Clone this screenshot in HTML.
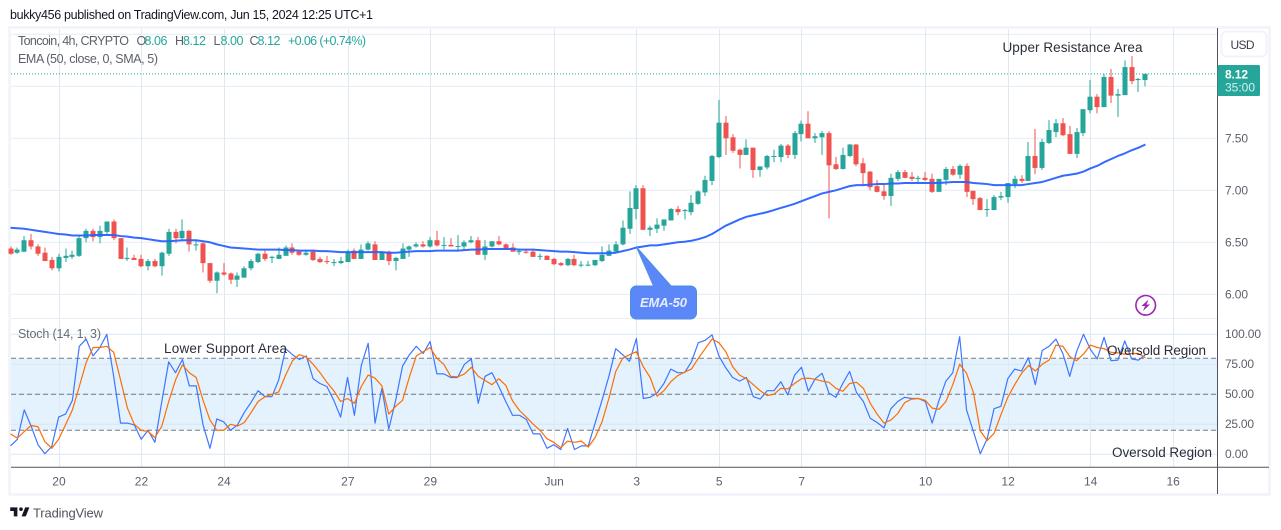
<!DOCTYPE html>
<html lang="en">
<head>
<meta charset="utf-8">
<title>Toncoin 4h chart</title>
<style>
html,body{margin:0;padding:0;background:#fff;width:1281px;height:530px;overflow:hidden}
svg{display:block;font-family:"Liberation Sans",sans-serif}
</style>
</head>
<body>
<svg id="chart" xmlns="http://www.w3.org/2000/svg" width="1281" height="530" viewBox="0 0 1281 530">
  <rect x="9.5" y="27.5" width="1260" height="467" fill="#fff" stroke="#f0f3fa" stroke-width="2.5"/>
  <rect x="11" y="358.3" width="1206" height="72" fill="#e3f2fd"/>
  <g id="grid"></g>
  <g id="hlines"></g>
  <g id="candles"></g>
  <path id="ema" fill="none" stroke="#2962ff" stroke-width="2" stroke-linejoin="round" opacity="0.95"/>
  <path id="stochK" fill="none" stroke="#3f76ff" stroke-width="1.2" stroke-linejoin="round"/>
  <path id="stochD" fill="none" stroke="#ff6d00" stroke-width="1.2" stroke-linejoin="round"/>
  <line id="lastLine" x1="11" x2="1217" stroke="#26a69a" stroke-width="1" stroke-dasharray="1 2"/>

  <line x1="1217.5" x2="1217.5" y1="28" y2="494" stroke="#50535e" stroke-width="1"/>
  <line x1="11" x2="1269" y1="467.3" y2="467.3" stroke="#50535e" stroke-width="1"/>

  <g id="priceLabels"></g>
  <g id="stochLabels"></g>
  <g id="timeLabels"></g>

  <text x="10" y="19" font-size="12.5" fill="#131722" textLength="363" lengthAdjust="spacing">bukky456 published on TradingView.com, Jun 15, 2024 12:25 UTC+1</text>

  <g font-size="12.5">
    <text x="18" y="45" fill="#5d606b" textLength="111" lengthAdjust="spacing">Toncoin, 4h, CRYPTO</text>
    <text x="136.500" y="45" fill="#5d606b">O</text>
    <text x="144.500" y="45" fill="#26a69a" textLength="23" lengthAdjust="spacing">8.06</text>
    <text x="175" y="45" fill="#5d606b">H</text>
    <text x="183" y="45" fill="#26a69a" textLength="23" lengthAdjust="spacing">8.12</text>
    <text x="213.500" y="45" fill="#5d606b">L</text>
    <text x="220.500" y="45" fill="#26a69a" textLength="23" lengthAdjust="spacing">8.00</text>
    <text x="249.500" y="45" fill="#5d606b">C</text>
    <text x="257.500" y="45" fill="#26a69a" textLength="23" lengthAdjust="spacing">8.12</text>
    <text x="288" y="45" fill="#26a69a" textLength="78" lengthAdjust="spacing">+0.06 (+0.74%)</text>
    <text x="18" y="63" fill="#5d606b" textLength="140" lengthAdjust="spacing">EMA (50, close, 0, SMA, 5)</text>
    <text x="18" y="338" fill="#6a6d78" textLength="83" lengthAdjust="spacing">Stoch (14, 1, 3)</text>
  </g>

  <g font-size="13.5" fill="#2a2e39">
    <text x="1002.500" y="52" textLength="140" lengthAdjust="spacing">Upper Resistance Area</text>
    <text x="164" y="353" textLength="123" lengthAdjust="spacing">Lower Support Area</text>
    <text x="1107" y="355" textLength="99" lengthAdjust="spacing">Oversold Region</text>
    <text x="1112" y="457" textLength="100" lengthAdjust="spacing">Oversold Region</text>
  </g>

  <g>
    <polygon points="636.5,247 654,287 672,287" fill="#5c87f8" stroke="#4a8fdc" stroke-width="1"/>
    <rect x="630.500" y="286" width="66" height="33" rx="6" fill="#5c87f8" stroke="#4a8fdc" stroke-width="1"/>
    <polygon points="643,262 654,288 672,288" fill="#5c87f8"/>
    <text x="640" y="307" font-size="13" font-style="italic" font-weight="bold" fill="#e8eeff" textLength="47" lengthAdjust="spacing">EMA-50</text>
  </g>

  <g>
    <circle cx="1145.700" cy="305.300" r="9.800" fill="#fff" stroke="#9c27b0" stroke-width="1.6"/>
    <polygon points="1148.500,299.500 1141.500,306 1145,306 1143,311 1150,304.500 1146.500,304.500" fill="#9c27b0"/>
  </g>

  <g>
    <rect x="1221.500" y="31.500" width="45" height="25" rx="5" fill="#fff" stroke="#f0f3fa" stroke-width="2"/>
    <text x="1230.500" y="49" font-size="12" fill="#3b3e48" textLength="24" lengthAdjust="spacing">USD</text>
  </g>

  <g>
    <rect x="1217.500" y="65" width="42.500" height="31" rx="1.500" fill="#26a69a"/>
    <text x="1225" y="78.500" font-size="12" font-weight="bold" fill="#fff" textLength="23" lengthAdjust="spacing">8.12</text>
    <text x="1225" y="91.500" font-size="12" fill="#d4efec" textLength="30" lengthAdjust="spacing">35:00</text>
  </g>

  <g>
    <path transform="translate(9 503.800) scale(.6)" fill="#131722" d="M14 6H2v6h6v9h6V6zm14 15h-7l6-15h7l-6 15zm-8-9a3 3 0 1 0 0-6 3 3 0 0 0 0 6z"/>
    <text x="33" y="517.500" font-size="13" fill="#50535e" textLength="70" lengthAdjust="spacing">TradingView</text>
  </g>
</svg>

<script>
const opens = [
6.44,6.40,6.41,6.52,6.46,6.40,6.33,6.25,6.35,6.36,
6.37,6.54,6.61,6.55,6.60,6.70,6.54,6.34,6.35,6.34,
6.27,6.32,6.27,6.39,6.60,6.54,6.61,6.47,6.49,6.30,
6.13,6.21,6.20,6.14,6.16,6.25,6.31,6.39,6.35,6.34,
6.37,6.45,6.41,6.38,6.41,6.34,6.32,6.30,6.30,6.31,
6.42,6.34,6.43,6.48,6.33,6.41,6.32,6.34,6.43,6.46,
6.48,6.46,6.52,6.47,6.475,6.46,6.46,6.50,6.52,6.38,
6.46,6.51,6.48,6.45,6.41,6.41,6.41,6.36,6.37,6.34,
6.30,6.28,6.34,6.28,6.28,6.28,6.32,6.37,6.41,6.48,
6.63,6.82,7.02,6.62,6.63,6.66,6.71,6.82,6.80,6.79,
6.87,6.98,7.09,7.32,7.65,7.51,7.39,7.34,7.41,7.195,
7.22,7.325,7.32,7.43,7.34,7.54,7.64,7.50,7.51,7.55,
7.25,7.205,7.33,7.44,7.26,7.18,7.04,6.99,6.945,7.11,
7.175,7.13,7.11,7.12,7.11,6.985,7.10,7.205,7.15,7.235,
6.995,6.925,6.81,6.81,6.93,6.935,7.06,7.11,7.09,7.33,
7.215,7.455,7.56,7.645,7.54,7.35,7.55,7.77,7.90,7.80,
8.09,7.91,7.915,8.185,8.06,8.06];
const highs = [
6.46,6.45,6.56,6.58,6.48,6.45,6.36,6.39,6.44,6.42,
6.56,6.63,6.63,6.66,6.70,6.72,6.54,6.45,6.38,6.38,
6.34,6.34,6.41,6.63,6.63,6.72,6.62,6.52,6.50,6.30,
6.22,6.30,6.21,6.21,6.27,6.34,6.40,6.42,6.37,6.45,
6.47,6.49,6.42,6.43,6.43,6.36,6.37,6.34,6.36,6.43,
6.44,6.48,6.51,6.51,6.41,6.42,6.36,6.49,6.47,6.50,
6.51,6.55,6.61,6.55,6.54,6.57,6.52,6.56,6.55,6.52,
6.51,6.56,6.49,6.49,6.44,6.43,6.44,6.39,6.375,6.35,
6.31,6.35,6.38,6.32,6.32,6.33,6.46,6.48,6.51,6.71,
6.99,7.05,7.05,6.66,6.73,6.72,6.83,6.85,6.82,6.955,
7.00,7.14,7.34,7.87,7.715,7.54,7.40,7.49,7.41,7.23,
7.34,7.39,7.445,7.445,7.57,7.67,7.76,7.55,7.57,7.57,
7.32,7.41,7.445,7.445,7.31,7.185,7.10,7.06,7.16,7.195,
7.195,7.175,7.14,7.175,7.16,7.11,7.225,7.235,7.25,7.26,
6.995,6.935,6.915,6.955,6.985,7.07,7.14,7.145,7.465,7.59,
7.495,7.675,7.685,7.695,7.62,7.60,7.78,8.06,7.925,8.12,
8.165,7.975,8.25,8.29,8.08,8.12];
const lows = [
6.38,6.39,6.405,6.43,6.37,6.32,6.23,6.22,6.31,6.34,
6.36,6.50,6.51,6.49,6.57,6.52,6.34,6.32,6.33,6.26,
6.23,6.26,6.18,6.37,6.49,6.51,6.41,6.42,6.21,6.11,
6.01,6.18,6.10,6.07,6.16,6.23,6.30,6.32,6.30,6.34,
6.37,6.38,6.37,6.37,6.32,6.30,6.29,6.27,6.29,6.31,
6.34,6.34,6.42,6.33,6.33,6.28,6.23,6.34,6.36,6.45,
6.45,6.45,6.46,6.43,6.46,6.41,6.43,6.49,6.38,6.33,
6.45,6.47,6.43,6.41,6.38,6.39,6.36,6.33,6.33,6.28,
6.27,6.27,6.27,6.26,6.27,6.27,6.31,6.37,6.40,6.47,
6.58,6.72,6.62,6.56,6.59,6.61,6.71,6.76,6.72,6.76,
6.86,6.945,7.05,7.31,7.34,7.36,7.21,7.34,7.12,7.13,
7.20,7.27,7.27,7.31,7.30,7.47,7.50,7.455,7.34,6.73,
7.195,7.20,7.32,7.23,7.04,7.00,6.98,6.91,6.85,7.09,
7.115,7.09,7.07,7.09,6.975,6.985,7.05,7.14,7.11,6.935,
6.86,6.81,6.745,6.81,6.905,6.88,7.02,7.07,7.09,7.155,
7.195,7.445,7.51,7.52,7.35,7.31,7.52,7.74,7.74,7.80,
7.84,7.705,7.915,8.02,7.945,8.00];
const closes = [
6.39,6.43,6.52,6.46,6.39,6.32,6.25,6.36,6.37,6.38,
6.54,6.61,6.55,6.61,6.70,6.54,6.34,6.35,6.33,6.27,
6.32,6.27,6.40,6.60,6.54,6.61,6.48,6.48,6.30,6.13,
6.21,6.19,6.14,6.18,6.25,6.32,6.39,6.34,6.36,6.38,
6.45,6.40,6.38,6.40,6.33,6.31,6.31,6.31,6.32,6.41,
6.34,6.43,6.49,6.33,6.41,6.32,6.35,6.44,6.46,6.48,
6.46,6.52,6.47,6.475,6.46,6.465,6.50,6.52,6.38,6.46,
6.51,6.48,6.44,6.41,6.415,6.40,6.36,6.37,6.33,6.29,
6.28,6.34,6.28,6.285,6.285,6.33,6.38,6.42,6.48,6.64,
6.83,7.02,6.62,6.64,6.67,6.72,6.82,6.79,6.81,6.88,
6.99,7.10,7.33,7.65,7.50,7.38,7.34,7.41,7.195,7.23,
7.33,7.33,7.43,7.34,7.55,7.64,7.50,7.52,7.55,7.24,
7.205,7.34,7.44,7.25,7.165,7.03,6.985,6.945,7.12,7.175,
7.12,7.11,7.12,7.10,6.985,7.11,7.205,7.15,7.235,6.985,
6.915,6.81,6.82,6.935,6.945,7.07,7.11,7.09,7.33,7.215,
7.465,7.58,7.645,7.53,7.35,7.56,7.78,7.90,7.80,8.09,
7.91,7.925,8.185,8.05,8.07,8.12];
const emaValues = [
6.64,6.635,6.63,6.62,6.61,6.60,6.59,6.58,6.575,6.565,
6.565,6.565,6.57,6.57,6.57,6.57,6.56,6.555,6.545,6.54,
6.53,6.52,6.51,6.51,6.515,6.52,6.52,6.52,6.51,6.50,
6.48,6.465,6.45,6.445,6.44,6.435,6.43,6.43,6.43,6.43,
6.425,6.425,6.42,6.42,6.42,6.415,6.415,6.41,6.405,6.405,
6.405,6.405,6.405,6.405,6.405,6.40,6.40,6.405,6.41,6.415,
6.415,6.415,6.42,6.42,6.42,6.42,6.425,6.43,6.43,6.435,
6.435,6.435,6.435,6.435,6.43,6.43,6.43,6.425,6.42,6.415,
6.41,6.41,6.405,6.40,6.395,6.395,6.395,6.395,6.40,6.415,
6.43,6.45,6.46,6.47,6.47,6.48,6.49,6.50,6.505,6.515,
6.53,6.55,6.58,6.62,6.66,6.69,6.72,6.745,6.76,6.775,
6.79,6.81,6.83,6.85,6.87,6.895,6.92,6.945,6.97,6.985,
7.00,7.02,7.04,7.05,7.05,7.055,7.06,7.06,7.065,7.065,
7.07,7.07,7.07,7.07,7.07,7.07,7.075,7.08,7.08,7.08,
7.07,7.065,7.06,7.05,7.05,7.05,7.05,7.05,7.06,7.07,
7.08,7.10,7.12,7.14,7.15,7.16,7.18,7.21,7.235,7.27,
7.30,7.33,7.355,7.385,7.41,7.44];
const stochKValues = [
7,12.5,37,23.5,8,0.5,6.5,31,33.5,45,
90,96,82,89,100,65,26,26,24.5,12.5,
20,10,44,77,68,79,57,57,24.5,5,
29.5,27,20,24.5,35,43.5,53,48,48,62,
88,83,79,82,63,59,56.5,45,31,64,
32.5,74,92.5,26,55,21,45,73.5,83,90,
84,94,67,67,64,64,75,79.5,42.5,65,
68,56.5,44,32.5,32.5,29,17,17,5,8,
4,21.5,4,7,7,26,45,65,88,83,
77.5,96.5,46.5,47.5,51,59,71,68,68,77,
93,95,99.5,82,72,64,61,64,48,46,
53,53,60.5,49.5,66,72.5,52.5,63,67.5,51,
47.5,59,69,51.5,44,30,26.5,22,38,44,
47.5,46.5,46.5,44,26,45,61,68,98,37,
19,0.5,13,38,40,63,71,69.5,80.5,58,
86.5,90,96,84,65,85.5,100,87.5,79.5,97.5,
78,78.5,94.5,79.5,78.5,83];
const stochDValues = [
17,13.5,19,24,23,10.5,5,12.5,24.5,37,
56.5,76.5,89,89,90,85,62,38.5,25,20,
19,14,23.5,44,62,74.5,68,64,45,28.5,
20,20,25,23.5,26.5,35,44,48,50,52,
66,78,83,81,75,68,60,53,44,46.5,
42.5,56.5,66,63.5,57,33.5,40,45,64.5,82,
85.5,89,80,75,65,64.5,67,72.5,65,61.5,
58,63,57.5,44.5,36.5,31,25,20,13,10,
5.5,11,10,11,6,14,27,46.5,69,80,
83,85.5,73,64,48.5,53,60.5,65.5,68.5,71,
80,88,96,93,85.5,73,66,63,58,53,
49,50,55,54.5,59,63,63.5,62.5,61,60,
55,52.5,59,60,55,42.5,33.5,26,28.5,34,
43,46,46.5,45,38.5,37.5,44,58,75,67.5,
51.5,19.5,11.5,17.5,33,47.5,58,67.5,74,69.5,
75,78.5,91,90,81.5,78,83.5,91,89,88,
85,84.5,83.5,84,84,80.5];
const priceTicks = [6.00, 6.50, 7.00, 7.50];
const extraPriceGrid = [8.00, 8.50];
const stochTicks = [0, 25, 50, 75, 100];
const stochLevels = [20, 50, 80];
const timeTickBars = [7, 19, 31, 49, 61, 79, 91, 103, 115, 133, 145, 157, 169];
const timeTickLabels = ['20', '22', '24', '27', '29', 'Jun', '3', '5', '7', '10', '12', '14', '16'];
const lastPrice = 8.12;

const NS = 'http://www.w3.org/2000/svg';
function xBar(i) { return 10.5 + i * 6.878; }
function yPrice(p) { return 242.3 - (p - 6.5) * 104; }
function yStoch(v) { return 454.3 - v * 1.2; }
function svgEl(tag, parentId) {
  const el = document.createElementNS(NS, tag);
  document.getElementById(parentId).appendChild(el);
  return el;
}
function linePath(values, yFn) {
  let d = '';
  for (let i = 0; i < values.length; i++) {
    d += (i ? 'L' : 'M') + xBar(i).toFixed(2) + ' ' + yFn(values[i]).toFixed(2);
  }
  return d;
}

/* grid */
priceTicks.concat(extraPriceGrid).forEach(function (p) {
  const el = svgEl('line', 'grid');
  
  
  el.setAttribute('x1', 11);
  el.setAttribute('x2', 1217);
  el.setAttribute('y1', yPrice(p));
  el.setAttribute('y2', yPrice(p));
  el.setAttribute('stroke', '#e4ebf2');
});
stochTicks.forEach(function (v) {
  const el = svgEl('line', 'grid');
  
  
  el.setAttribute('x1', 11);
  el.setAttribute('x2', 1217);
  el.setAttribute('y1', yStoch(v));
  el.setAttribute('y2', yStoch(v));
  el.setAttribute('stroke', '#d8e6f2');
});
timeTickBars.forEach(function (b) {
  const el = svgEl('line', 'grid');
  
  
  const x = Math.round(xBar(b)) + 0.5;
  el.setAttribute('x1', x);
  el.setAttribute('x2', x);
  el.setAttribute('y1', 29);
  el.setAttribute('y2', 467);
  el.setAttribute('stroke', '#e0e9f1');
});
const paneSep = svgEl('line', 'grid');


paneSep.setAttribute('x1', 11);
paneSep.setAttribute('x2', 1217);
paneSep.setAttribute('y1', 318.5);
paneSep.setAttribute('y2', 318.5);
paneSep.setAttribute('stroke', '#e8edf3');

/* stoch levels */
stochLevels.forEach(function (v) {
  const el = svgEl('line', 'hlines');
  
  
  el.setAttribute('x1', 11);
  el.setAttribute('x2', 1217);
  el.setAttribute('y1', yStoch(v));
  el.setAttribute('y2', yStoch(v));
  el.setAttribute('stroke', '#787b86');
  el.setAttribute('stroke-dasharray', '5 3');
});

/* candles */
for (let i = 0; i < closes.length; i++) {
  const up = closes[i] >= opens[i];
  const color = up ? '#26a69a' : '#ef5350';
  const cx = Math.round(xBar(i));
  const wick = svgEl('rect', 'candles');
  
  
  wick.setAttribute('x', cx - 0.5);
  wick.setAttribute('width', 1);
  wick.setAttribute('y', yPrice(highs[i]));
  wick.setAttribute('height', Math.max(0.5, yPrice(lows[i]) - yPrice(highs[i])));
  wick.setAttribute('fill', color);
  const body = svgEl('rect', 'candles');
  
  
  const top = yPrice(Math.max(opens[i], closes[i]));
  const bot = yPrice(Math.min(opens[i], closes[i]));
  body.setAttribute('x', cx - 2.5);
  body.setAttribute('width', 5);
  body.setAttribute('y', top);
  body.setAttribute('height', Math.max(1, bot - top));
  body.setAttribute('fill', color);
}

/* lines */
document.getElementById('ema').setAttribute('d', linePath(emaValues, yPrice));
document.getElementById('stochK').setAttribute('d', linePath(stochKValues, yStoch));
document.getElementById('stochD').setAttribute('d', linePath(stochDValues, yStoch));
const lastLine = document.getElementById('lastLine');
lastLine.setAttribute('y1', yPrice(lastPrice));
lastLine.setAttribute('y2', yPrice(lastPrice));

/* axis labels */
priceTicks.forEach(function (p) {
  const el = svgEl('text', 'priceLabels');
  
  
  el.setAttribute('x', 1225);
  el.setAttribute('y', yPrice(p) + 4.3);
  el.setAttribute('font-size', 12);
  el.setAttribute('fill', '#5d606b');
  el.setAttribute('textLength', 23);
  el.textContent = p.toFixed(2);
});
stochTicks.forEach(function (v) {
  const el = svgEl('text', 'stochLabels');
  
  
  el.setAttribute('x', 1225);
  el.setAttribute('y', yStoch(v) + 3.6);
  el.setAttribute('font-size', 12);
  el.setAttribute('fill', '#5d606b');
  el.setAttribute('textLength', v === 100 ? 36 : (v === 0 ? 23 : 29));
  el.textContent = v.toFixed(2);
});
timeTickBars.forEach(function (b, k) {
  const el = svgEl('text', 'timeLabels');
  
  
  el.setAttribute('x', xBar(b) + 0.3);
  el.setAttribute('y', 485.5);
  el.setAttribute('font-size', 12);
  el.setAttribute('fill', '#5d606b');
  el.setAttribute('text-anchor', 'middle');
  el.textContent = timeTickLabels[k];
});
</script>
</body>
</html>
